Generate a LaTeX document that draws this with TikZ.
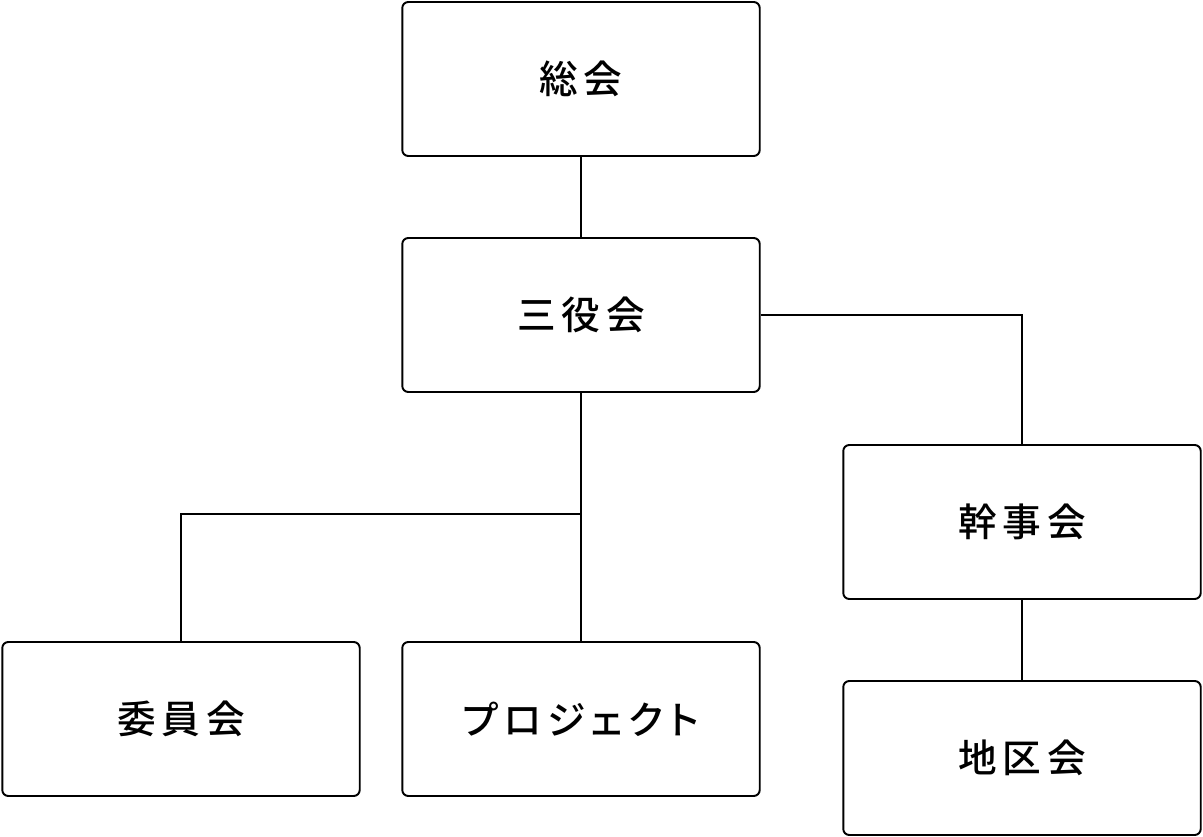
\documentclass[tikz,border=0pt]{standalone}
\usepackage{fontspec}
\newfontfamily\jpfont[RawFeature=+palt,LetterSpace=15,BoldFont={Noto Sans CJK JP Medium}]{Noto Sans CJK JP}
\usetikzlibrary{positioning}

\begin{document}
\begin{tikzpicture}[
    x=0.02cm, y=-0.02cm,
    unit/.style={draw, line width=1.1pt, rounded corners=0.12cm,
      minimum width=7.15cm, minimum height=3.08cm, inner sep=0pt,
      font=\jpfont\bfseries\fontsize{22}{26}\selectfont},
    link/.style={line width=1.1pt}
    ]
    \useasboundingbox (0,0) rectangle (1203,837);

    % boxes
    \node[unit] (soukai)   at (581,79)   {総会};
    \node[unit] (sanyaku)  at (581,315)  {三役会};
    \node[unit] (kanji)    at (1022,522) {幹事会};
    \node[unit] (iin)      at (181,719)  {委員会};
    \node[unit] (project)  at (581,719)  {プロジェクト};
    \node[unit] (chiku)    at (1022,758) {地区会};

    % branch point
    \coordinate (split) at (581,514);

    % links
    \draw[link] (soukai) -- (sanyaku);
    \draw[link] (sanyaku.east) -| (kanji.north);
    \draw[link] (sanyaku) -- (project);
    \draw[link] (split) -| (iin.north);
    \draw[link] (kanji) -- (chiku);
\end{tikzpicture}
\end{document}
